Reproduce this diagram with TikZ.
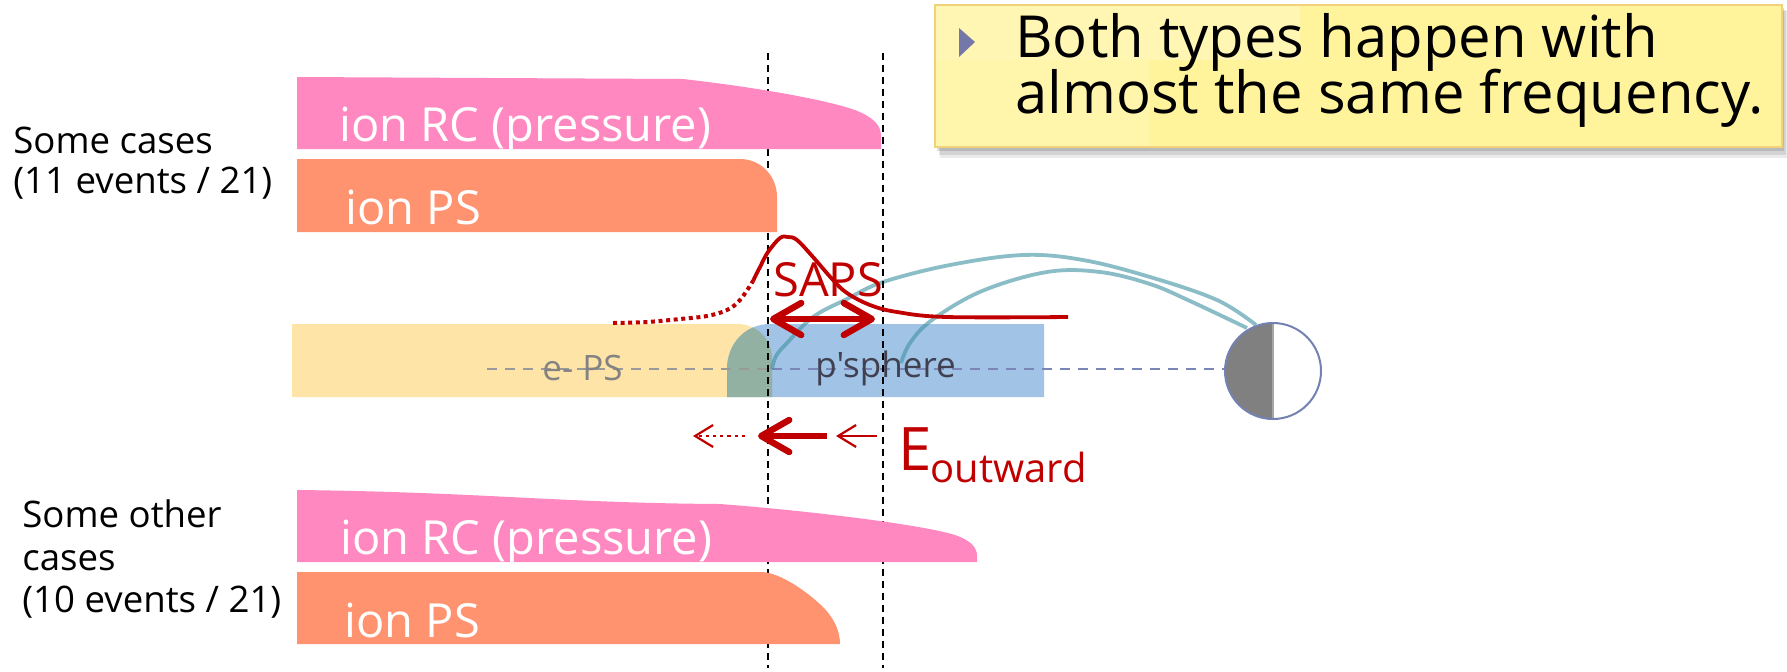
\documentclass[tikz,border=0pt]{standalone}
\usepackage{fontspec}
\setmainfont{Open Sans}
\newfontfamily\plainsans{Open Sans}
\usetikzlibrary{arrows.meta}

\definecolor{rcpink}{HTML}{FF88C0}
\definecolor{psorange}{HTML}{FF9370}
\definecolor{epsyellow}{HTML}{FFE4A8}
\definecolor{spblue}{HTML}{A0C3E6}
\definecolor{overlapgreen}{HTML}{93B1A2}
\definecolor{sapsred}{HTML}{C00000}
\definecolor{fieldteal}{RGB}{68,148,163}
\definecolor{axisgray}{HTML}{9A9A9A}
\definecolor{axisblue}{HTML}{7B86B8}
\definecolor{earthline}{HTML}{7381B3}
\definecolor{calloutfill}{HTML}{FFF39C}
\definecolor{calloutlight}{HTML}{FFF9C8}
\definecolor{calloutedge}{HTML}{F0D27A}
\definecolor{bulletblue}{HTML}{7378A8}
\definecolor{spheretext}{HTML}{404050}

\begin{document}
\begin{tikzpicture}[x=0.5pt,y=-0.5pt,
  caselabel/.style={anchor=base west, inner sep=0pt, font=\fontsize{18.3pt}{22pt}\selectfont},
  bandlabel/.style={anchor=base west, inner sep=0pt, text=white, font=\fontsize{23.5pt}{28pt}\selectfont},
  regionlabel/.style={anchor=base west, inner sep=0pt, font=\plainsans\fontsize{17.5pt}{21pt}\selectfont},
  calloutline/.style={anchor=base west, inner sep=0pt, font=\fontsize{29pt}{34pt}\selectfont},
  guideline/.style={black, line width=1pt, dash pattern=on 3.5pt off 2.5pt},
  axisline/.style={line width=0.9pt, dash pattern=on 5pt off 4pt},
  fieldline/.style={fieldteal, opacity=0.62, line width=1.9pt},
  sapscurve/.style={sapsred, line width=1.9pt},
]
\useasboundingbox (0,0) rectangle (1787,671);

% ---------- callout box ----------
\fill[black, opacity=0.08] (940,11) rectangle (1787,158);
\fill[black, opacity=0.10] (939,10) rectangle (1786,155);
\fill[black, opacity=0.12] (937,8) rectangle (1784,151);
\node[fill=calloutfill, draw=calloutedge, line width=0.8pt, inner sep=0pt,
      minimum width=423.5pt, minimum height=71pt] (callout) at (1358.5,76) {};
\fill[calloutlight, opacity=0.55] (936,6) rectangle (1300,60);
\fill[calloutlight, opacity=0.35] (936,60) rectangle (1150,146);
\fill[bulletblue] (959,28) -- (975,42) -- (959,57) -- cycle;
\node[calloutline] (both) at (1015,57) {Both types happen with};
\node[calloutline] (almost) at (1015,113) {almost the same frequency.};

% ---------- plasma-sphere / e- PS band ----------
\fill[epsyellow] (292,324) -- (737,324) .. controls (757,324) and (772,339) .. (772,359)
  -- (772,397) -- (292,397) -- cycle;
\fill[spblue] (727,397) -- (727,369) .. controls (727,344) and (745,324) .. (770,324)
  -- (1044,324) -- (1044,397) -- cycle;
\begin{scope}
  \clip (292,324) -- (737,324) .. controls (757,324) and (772,339) .. (772,359)
    -- (772,397) -- (292,397) -- cycle;
  \fill[overlapgreen] (727,397) -- (727,369) .. controls (727,344) and (745,324) .. (770,324)
    -- (1044,324) -- (1044,397) -- cycle;
\end{scope}

% equatorial axis
\coordinate (axisA) at (487,369);
\coordinate (axisB) at (772,369);
\coordinate (axisC) at (1329,369);
\draw[axisline, axisgray] (axisA) -- (axisB);
\draw[axisline, axisblue] (axisB) -- (axisC);

% field lines to the Earth
\draw[fieldline] plot[smooth, tension=0.6] coordinates {(772,369) (776,356) (787,343) (813,317)
  (847,299) (883,282) (950,265) (1023,255) (1083,260) (1150,277) (1217,300) (1256,325)};
\draw[fieldline] plot[smooth, tension=0.6] coordinates {(901,363) (910,343) (932,320) (982,291)
  (1047,272) (1100,272) (1150,284) (1190,301) (1247,328)};

\node[regionlabel, text=axisgray!85!black] (eps) at (542,380) {e- PS};
\node[regionlabel, text=spheretext] (psphere) at (815,377) {p'sphere};

% Earth
\coordinate (earth) at (1273,371);
\fill[white] (earth) circle[radius=24pt];
\fill[gray] (1273,323) arc[start angle=90, end angle=270, radius=24pt] -- cycle;
\draw[black!35, line width=0.6pt] (1273,323) -- (1273,419);
\draw[earthline, line width=1pt] (earth) circle[radius=24pt];

% ---------- vertical guides ----------
\coordinate (g1top) at (768,53);
\coordinate (g1bot) at (768,668);
\coordinate (g2top) at (883,53);
\coordinate (g2bot) at (883,668);
\draw[guideline] (g1top) -- (g1bot);
\draw[guideline] (g2top) -- (g2bot);

% ---------- first group: ion RC and ion PS ----------
\fill[rcpink] (297,77) -- (683,79) .. controls (745,86) and (820,98) .. (855,110)
  .. controls (875,118) and (881,126) .. (881,136) -- (881,149) -- (297,149) -- cycle;
\fill[psorange] (297,159) -- (740,159) .. controls (761,159) and (777,176) .. (777,197)
  -- (777,232) -- (297,232) -- cycle;
\node[bandlabel] (rc1) at (339,141) {ion RC (pressure)};
\node[bandlabel] (ps1) at (345,224) {ion PS};

% ---------- second group ----------
\fill[rcpink] (297,490) .. controls (480,492) and (560,503) .. (720,504)
  .. controls (800,510) and (920,524) .. (955,535) .. controls (972,541) and (977,548) .. (977,556)
  -- (977,562) -- (297,562) -- cycle;
\fill[psorange] (297,572) -- (762,572) .. controls (780,573) and (805,590) .. (822,606)
  .. controls (835,619) and (840,632) .. (840,644) -- (297,644) -- cycle;
\node[bandlabel] (rc2) at (340,554) {ion RC (pressure)};
\node[bandlabel] (ps2) at (344,637) {ion PS};

% ---------- case labels ----------
\node[caselabel] (case1a) at (13,153) {Some cases};
\node[caselabel] (case1b) at (13,193) {(11 events / 21)};
\node[caselabel] (case2a) at (22,527) {Some other};
\node[caselabel] (case2b) at (22,570) {cases};
\node[caselabel] (case2c) at (22,612) {(10 events / 21)};

% ---------- SAPS ----------
\draw[sapsred, line width=2pt, dash pattern=on 2pt off 1.8pt] plot[smooth, tension=0.6]
  coordinates {(613,323) (647,322) (680,319) (707,316) (727,310) (740,300) (753,281)};
\node[anchor=base west, inner sep=0pt, text=sapsred, font=\fontsize{23.5pt}{28pt}\selectfont]
  (saps) at (773,296) {SAPS};
\draw[sapscurve] plot[smooth, tension=0.6] coordinates {(753,281) (760,267) (768,252) (780,238)
  (788,237) (797,240) (813,257) (833,280) (847,293) (870,305) (897,312) (947,317) (1068,317)};
\coordinate (sapsL) at (770,319);
\coordinate (sapsR) at (875,319);
\draw[sapsred, line width=3.2pt, {Straight Barb[length=14pt,width=16pt,round]}-{Straight Barb[length=14pt,width=16pt,round]}]
  (sapsL) -- (sapsR);

% ---------- outward electric field ----------
\coordinate (e1s) at (745,436);
\coordinate (e1t) at (693,436);
\coordinate (e2s) at (827,436);
\coordinate (e2t) at (758,436);
\coordinate (e3s) at (877,436);
\coordinate (e3t) at (836,436);
\draw[sapsred, line width=1.1pt, dash pattern=on 1.6pt off 2pt, -{Straight Barb[length=9pt,width=11pt]}] (e1s) -- (e1t);
\draw[sapsred, line width=3.2pt, -{Straight Barb[length=14pt,width=16pt,round]}] (e2s) -- (e2t);
\draw[sapsred, line width=1.1pt, -{Straight Barb[length=9pt,width=11pt]}] (e3s) -- (e3t);
\node[anchor=base west, inner sep=0pt, text=sapsred, font=\fontsize{30pt}{36pt}\selectfont]
  (efield) at (898,470) {E};
\node[anchor=base west, inner sep=0pt, text=sapsred, font=\fontsize{20pt}{24pt}\selectfont]
  (outward) at (930,482) {outward};
\end{tikzpicture}
\end{document}
